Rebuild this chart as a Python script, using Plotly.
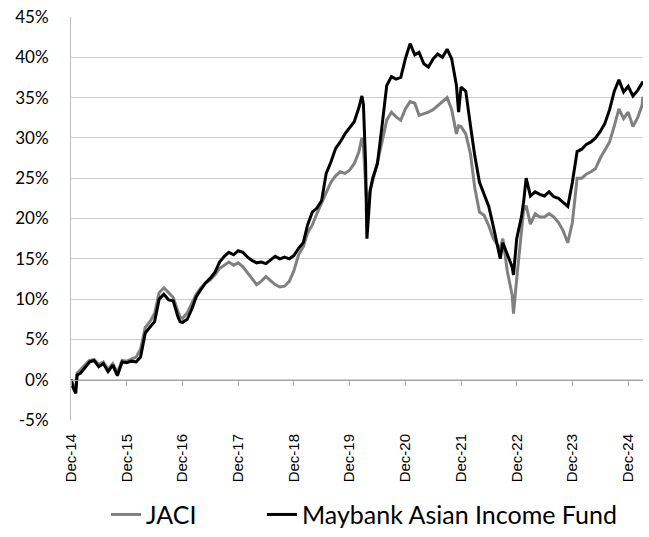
import plotly.graph_objects as go

# Dates (shared by both series)
dates = [
    "2014-12-01", "2014-12-15", "2015-01-01", "2015-01-10", "2015-02-01", "2015-03-01",
    "2015-04-01", "2015-05-01", "2015-06-01", "2015-07-01", "2015-08-01", "2015-09-01",
    "2015-10-01", "2015-11-01", "2015-12-01", "2016-01-01", "2016-02-01", "2016-03-01",
    "2016-04-01", "2016-05-01", "2016-06-01", "2016-07-01", "2016-08-01", "2016-09-01",
    "2016-10-01", "2016-11-01", "2016-11-15", "2016-12-01", "2017-01-01", "2017-02-01",
    "2017-03-01", "2017-04-01", "2017-05-01", "2017-06-01", "2017-07-01", "2017-08-01",
    "2017-09-01", "2017-10-01", "2017-11-01", "2017-12-01", "2018-01-01", "2018-02-01",
    "2018-03-01", "2018-04-01", "2018-05-01", "2018-06-01", "2018-07-01", "2018-08-01",
    "2018-09-01", "2018-10-01", "2018-11-01", "2018-12-01", "2019-01-01", "2019-02-01",
    "2019-03-01", "2019-04-01", "2019-05-01", "2019-06-01", "2019-07-01", "2019-08-01",
    "2019-09-01", "2019-10-01", "2019-11-01", "2019-12-01", "2020-01-01", "2020-02-01",
    "2020-02-20", "2020-03-01", "2020-03-15", "2020-03-24", "2020-04-01", "2020-04-15",
    "2020-05-01", "2020-06-01", "2020-07-01", "2020-08-01", "2020-09-01", "2020-10-01",
    "2020-11-01", "2020-11-15", "2020-12-01", "2021-01-01", "2021-02-01", "2021-03-01",
    "2021-04-01", "2021-05-01", "2021-06-01", "2021-07-01", "2021-08-01", "2021-09-01",
    "2021-10-01", "2021-11-01", "2021-11-15", "2021-12-01", "2022-01-01", "2022-02-01",
    "2022-03-01", "2022-04-01", "2022-05-01", "2022-06-01", "2022-07-01", "2022-08-01",
    "2022-08-15", "2022-09-01", "2022-10-01", "2022-11-01", "2022-11-10", "2022-12-01",
    "2023-01-01", "2023-01-15", "2023-02-01", "2023-03-01", "2023-04-01", "2023-05-01",
    "2023-06-01", "2023-07-01", "2023-08-01", "2023-09-01", "2023-10-01", "2023-11-01",
    "2023-12-01", "2024-01-01", "2024-02-01", "2024-03-01", "2024-04-01", "2024-05-01",
    "2024-06-01", "2024-07-01", "2024-08-01", "2024-09-01", "2024-10-01", "2024-11-01",
    "2024-12-01", "2025-01-01", "2025-02-01", "2025-03-01", "2025-03-08",
]

# Maybank Asian Income Fund cumulative return (%)
maybank = [
    0.0, -1.0, -1.7, 0.6, 0.8, 1.5,
    2.2, 2.4, 1.6, 2.0, 1.0, 1.8,
    0.5, 2.2, 2.1, 2.3, 2.2, 2.8,
    5.8, 6.5, 7.2, 10.0, 10.6, 9.9,
    9.8, 7.8, 7.2, 7.1, 7.5, 8.8,
    10.3, 11.2, 12.0, 12.6, 13.3, 14.6,
    15.3, 15.8, 15.5, 16.0, 15.8, 15.2,
    14.8, 14.5, 14.6, 14.4, 14.8, 15.3,
    15.0, 15.2, 15.0, 15.4, 16.3, 17.0,
    19.2, 20.8, 21.3, 22.2, 25.6, 27.0,
    28.7, 29.5, 30.5, 31.3, 32.0, 33.8,
    35.2, 34.2, 27.0, 17.5, 20.0, 23.5,
    25.0, 26.8, 31.5, 36.5, 37.6, 37.3,
    37.5, 38.6, 39.8, 41.7, 40.3, 40.6,
    39.2, 38.8, 39.8, 40.4, 40.0, 41.0,
    39.8, 36.5, 33.2, 36.3, 35.8, 31.5,
    27.8, 24.5, 23.0, 21.5, 19.0, 16.0,
    15.0, 17.0, 15.4, 14.0, 13.0, 17.5,
    20.2, 22.0, 25.0, 22.8, 23.3, 23.0,
    22.8, 23.3, 22.7, 22.5, 22.0, 21.5,
    24.5, 28.3, 28.6, 29.2, 29.5, 30.0,
    30.8, 31.8, 33.5, 35.8, 37.2, 35.7,
    36.4, 35.2, 35.9, 36.8, 37.0,
]

# JACI cumulative return (%)
jaci = [
    0.0, -0.6, -1.2, 0.8, 1.2, 1.8,
    2.4, 2.5, 1.9, 2.2, 1.3, 2.0,
    0.9, 2.4, 2.3, 2.6, 2.8, 3.8,
    6.5, 7.2, 8.2, 10.8, 11.4, 10.8,
    10.2, 8.5, 7.8, 7.6, 8.3, 9.5,
    10.6, 11.4, 12.0, 12.4, 13.0, 13.8,
    14.2, 14.6, 14.2, 14.5, 14.0, 13.2,
    12.5, 11.8, 12.2, 12.8, 12.3, 11.8,
    11.5, 11.6, 12.2, 13.5, 15.5, 16.5,
    18.2, 19.2, 20.6, 22.0, 23.2, 24.5,
    25.3, 25.8, 25.6, 26.0, 26.8, 28.3,
    30.0, 29.0, 24.0, 21.5, 22.5, 23.5,
    24.5, 27.0, 29.5, 32.2, 33.2, 32.6,
    32.2, 32.8, 33.6, 34.5, 34.3, 32.8,
    33.0, 33.2, 33.5, 34.0, 34.5, 35.0,
    33.5, 30.5, 31.5, 31.4, 30.5, 28.0,
    23.8, 20.8, 20.4, 19.1, 17.5, 16.6,
    16.2, 17.5, 13.4, 10.5, 8.2, 12.5,
    18.0, 21.0, 21.6, 19.3, 20.6, 20.2,
    20.2, 20.6, 20.2, 19.5, 18.5, 17.0,
    19.5, 25.0, 25.0, 25.5, 25.8, 26.2,
    27.5, 28.5, 29.5, 31.5, 33.6, 32.4,
    33.2, 31.4, 32.5, 34.0, 35.1,
]

tick_dates = ["2014-12-01", "2015-12-01", "2016-12-01", "2017-12-01", "2018-12-01",
              "2019-12-01", "2020-12-01", "2021-12-01", "2022-12-01", "2023-12-01",
              "2024-12-01"]
tick_text = ["Dec-14", "Dec-15", "Dec-16", "Dec-17", "Dec-18", "Dec-19",
             "Dec-20", "Dec-21", "Dec-22", "Dec-23", "Dec-24"]
y_ticks = [-5, 0, 5, 10, 15, 20, 25, 30, 35, 40, 45]
y_text = [f"{v}%" for v in y_ticks]

fig = go.Figure()
fig.add_trace(go.Scatter(x=dates, y=jaci, mode="lines", name="JACI",
                         line=dict(color="#808080", width=3), legend="legend"))
fig.add_trace(go.Scatter(x=dates, y=maybank, mode="lines", name="Maybank Asian Income Fund",
                         line=dict(color="#000000", width=3), legend="legend2"))
# helper trace for the axis drawn across 0%
fig.add_trace(go.Scatter(x=[dates[0]], y=[0], xaxis="x2", mode="markers",
                         marker=dict(opacity=0), showlegend=False, hoverinfo="skip"))

legend_font = dict(family="Lato", size=25, color="#000000")
x_range = ["2014-12-01", "2025-03-08"]
fig.update_layout(
    width=649, height=537,
    margin=dict(l=71, r=6, t=17, b=117, autoexpand=False),
    paper_bgcolor="white", plot_bgcolor="white",
    showlegend=True,
    legend=dict(orientation="h", x=(106 - 71) / 572, xanchor="left", y=-0.235,
                yanchor="middle", font=legend_font, bgcolor="rgba(0,0,0,0)"),
    legend2=dict(orientation="h", x=(262 - 71) / 572, xanchor="left", y=-0.235,
                 yanchor="middle", font=legend_font, bgcolor="rgba(0,0,0,0)"),
    xaxis=dict(type="date", range=x_range, tickvals=tick_dates, ticktext=tick_text,
               tickangle=-90, showgrid=False, zeroline=False, showline=False, ticks="",
               tickfont=dict(family="Liberation Sans", size=15, color="#000000"),
               ticklabelstandoff=10, automargin=False),
    xaxis2=dict(type="date", range=x_range, overlaying="x", anchor="free", position=0.1,
                tickvals=tick_dates, showticklabels=False, ticks="outside", ticklen=5,
                tickcolor="#a6a6a6", showline=True, linecolor="#a6a6a6", linewidth=1,
                showgrid=False, zeroline=False, automargin=False),
    yaxis=dict(range=[-5, 45], tickvals=y_ticks, ticktext=y_text, showgrid=True,
               gridcolor="#d0d0d0", gridwidth=1, zeroline=False, showline=True,
               linecolor="#bfbfbf", linewidth=1, ticks="",
               tickfont=dict(family="Lato", size=17, color="#000000"),
               ticklabelstandoff=18, automargin=False),
)
fig.write_html(
    "out.html",
    config={"displayModeBar": False},
    post_script="document.body.style.margin='0px';document.body.style.overflow='hidden';",
)
